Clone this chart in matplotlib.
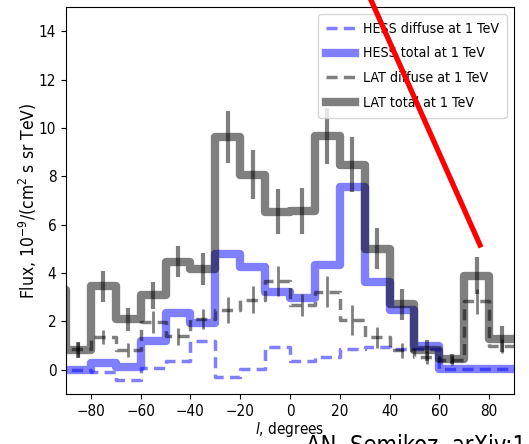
import numpy as np
import matplotlib
matplotlib.use("Agg")
import matplotlib.pyplot as plt
from matplotlib.lines import Line2D

plt.rcParams["font.family"] = ["DejaVu Sans"]
plt.rcParams["font.stretch"] = "condensed"

# Galactic longitude bin centres (10 degree bins)
l_centres = np.arange(-95, 100, 10)

# Fluxes at 1 TeV, units of 1e-9 /(cm^2 s sr TeV)
hess_diffuse = [0.0, 0.0, -0.1, -0.44, 0.07, 0.35, 1.21, -0.3, 0.03, 0.95,
                0.37, 0.54, 0.84, 0.95, 0.88, 0.85, 0.02, 0.02, 0.02, 0.02]
hess_total = [0.0, 0.0, 0.3, 0.1, 1.21, 2.34, 1.93, 4.8, 4.25, 3.22,
              2.98, 4.32, 7.55, 3.63, 2.46, 1.0, 0.04, 0.04, 0.04, 0.04]
lat_diffuse = [0.85, 0.85, 1.36, 0.81, 1.97, 1.39, 2.1, 2.46, 2.9, 3.67,
               2.67, 3.23, 2.05, 1.34, 0.8, 0.52, 0.39, 2.83, 0.98, 0.98]
lat_total = [3.3, 0.82, 3.45, 2.09, 3.09, 4.47, 4.17, 9.64, 8.07, 6.53,
             6.56, 9.67, 8.48, 5.0, 2.71, 0.8, 0.45, 3.89, 1.28, 1.28]

# Statistical errors for the bins inside the plotted range (-90..90)
lat_diffuse_err = [0.3, 0.3, 0.28, 0.45, 0.35, 0.43, 0.53, 0.56, 0.62,
                   0.45, 0.63, 0.62, 0.45, 0.32, 0.27, 0.2, 0.52, 0.3]
lat_total_err = [0.33, 0.63, 0.47, 0.56, 0.63, 0.68, 1.07, 1.02, 0.93,
                 0.96, 1.17, 1.13, 0.85, 0.63, 0.45, 0.22, 0.76, 0.55]

fig = plt.figure(figsize=(5.29, 4.44), dpi=100)
ax = fig.add_axes([66 / 529, 1 - 394 / 444, 448 / 529, 387 / 444])

ax.step(l_centres, hess_diffuse, where="mid", color="blue", alpha=0.5,
        lw=2.5, ls=(0, (3.2, 1.8)), label="HESS diffuse at 1 TeV")
ax.step(l_centres, hess_total, where="mid", color="blue", alpha=0.5,
        lw=6, label="HESS total at 1 TeV")
ax.step(l_centres, lat_diffuse, where="mid", color="black", alpha=0.5,
        lw=2.5, ls=(0, (3.2, 1.8)), label="LAT diffuse at 1 TeV")
ax.step(l_centres, lat_total, where="mid", color="black", alpha=0.5,
        lw=6, label="LAT total at 1 TeV")

inner = l_centres[1:-1]
ax.errorbar(inner, lat_diffuse[1:-1], yerr=lat_diffuse_err, fmt="none",
            ecolor="black", alpha=0.5, elinewidth=2)
ax.errorbar(inner, lat_total[1:-1], yerr=lat_total_err, fmt="none",
            ecolor="black", alpha=0.5, elinewidth=3)

ax.set_xlim(-90, 90)
ax.set_ylim(-1, 15)
ax.set_xticks(np.arange(-80, 81, 20))
ax.set_yticks(np.arange(0, 15, 2))
ax.tick_params(labelsize=11)
ax.set_xlabel(r"$l$, degrees", fontsize=11, labelpad=1)
ax.set_ylabel(r"Flux, 10$^{-9}$/(cm$^2$ s sr TeV)", fontsize=12.5,
              labelpad=0)
ax.legend(loc="upper right", fontsize=10.2, labelspacing=0.75,
          borderpad=0.55, handlelength=2.0, handletextpad=0.6)

# Overlay marks on the figure
fig.add_artist(Line2D([369 / 529, 480 / 529], [1.01, 1 - 245 / 444],
                      transform=fig.transFigure, color="red", lw=3.8))
fig.text(306 / 529, 1 - 434 / 444, "AN. Semikoz, arXiv:1", fontsize=17,
         va="top", ha="left")

fig.savefig("out.png", dpi=100)
